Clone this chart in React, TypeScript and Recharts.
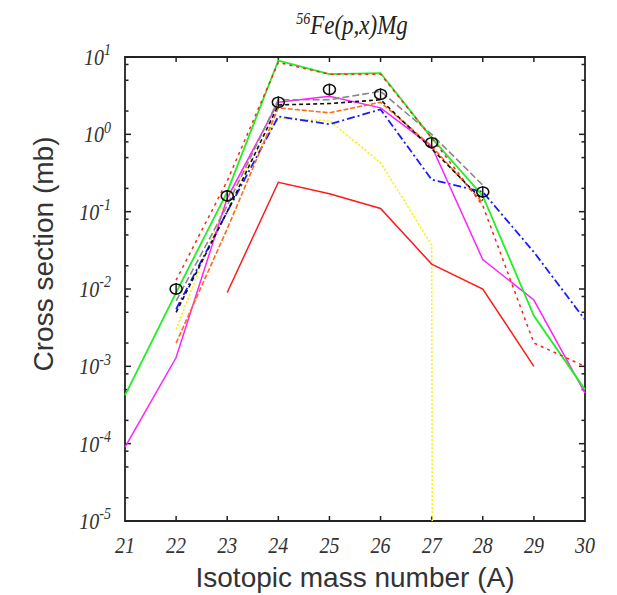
import React from 'react'
import { LineChart, Line, XAxis, YAxis, ReferenceLine, ReferenceArea } from 'recharts'

// Mass numbers A = 21..30
const massNumbers = [21, 22, 23, 24, 25, 26, 27, 28, 29, 30]

// Cross sections (mb), null = no value
const greenCalc = [4.2e-4, 0.009, 0.18, 9, 6, 6.2, 0.9, 0.16, 0.0045, 5e-4]
const redUpper = [null, 0.013, 0.25, 8.5, 6, 6, 0.9, 0.12, 0.002, 0.001]
const redLower = [null, null, 0.009, 0.24, 0.17, 0.11, 0.021, 0.01, 0.001, null]
const orangeCalc = [null, 0.002, 0.06, 2.2, 1.9, 2.6, 0.7, 0.13, null, null]
const blueCalc = [null, 0.0055, 0.1, 1.7, 1.35, 2.1, 0.26, 0.18, 0.03, 0.004]
const yellowCalc = [null, 0.003, 0.15, 1.6, 1.5, 0.43, 0.037, 1e-300, null, null]
const magentaCalc = [9e-5, 0.0013, 0.15, 2.6, 3.1, 2.2, 0.7, 0.024, 0.0072, 4.5e-4]
const blackCalc = [null, 0.005, 0.1, 2.4, 2.5, 2.8, 0.65, 0.14, null, null]
const grayCalc = [null, 0.007, 0.12, 2.8, 2.8, 3.6, 1.0, 0.22, null, null]
const measured = [null, 0.01, 0.16, 2.6, 3.8, 3.3, 0.78, 0.18, null, null]

const majorTicks = [1e-5, 1e-4, 1e-3, 1e-2, 1e-1, 1, 10]
const minorFactors = [2, 5, 8]
const minorTicks = majorTicks.slice(0, -1).flatMap((d) => minorFactors.map((f) => d * f))

const data = massNumbers.map((a, i) => ({
  a,
  green: greenCalc[i],
  redUpper: redUpper[i],
  redLower: redLower[i],
  orange: orangeCalc[i],
  blue: blueCalc[i],
  yellow: yellowCalc[i],
  magenta: magentaCalc[i],
  black: blackCalc[i],
  gray: grayCalc[i],
  exp: measured[i],
}))

const X_MIN = 21
const X_MAX = 30
const Y_MIN = 1e-5
const Y_MAX = 10

// plot frame (page pixels)
const PLOT_TOP = 57
const PLOT_BOTTOM = 521
const PLOT_LEFT = 125
const PLOT_RIGHT = 585

// tick lengths in data units (~ px / px-per-unit)
const xPerPx = (X_MAX - X_MIN) / (PLOT_RIGHT - PLOT_LEFT)
const decadesPerPx = Math.log10(Y_MAX / Y_MIN) / (PLOT_BOTTOM - PLOT_TOP)
const majorX = 6 * xPerPx
const minorX = 3.5 * xPerPx
const tickYFactor = Math.pow(10, 5 * decadesPerPx)

const serif = '"Liberation Serif", "DejaVu Serif", serif'
const sans = '"Liberation Sans", Arial, sans-serif'
const frame = '#222'

// the scanned figure is a little stretched vertically, so text is too
function BottomLabel({ x, payload }: any) {
  return (
    <text
      transform={`translate(${x} ${PLOT_BOTTOM + 32}) scale(1 1.2)`}
      textAnchor="middle"
      fontFamily={serif}
      fontStyle="italic"
      fontSize={20}
      fill="#333"
    >
      {payload.value}
    </text>
  )
}

function LeftLabel({ y, payload }: any) {
  const exp = Math.round(Math.log10(payload.value))
  return (
    <text
      transform={`translate(${PLOT_LEFT - 14} ${y + 8}) scale(1 1.2)`}
      textAnchor="end"
      fontFamily={serif}
      fontStyle="italic"
      fontSize={20}
      fill="#333"
    >
      10
      <tspan dy={-8} fontSize={14}>{exp}</tspan>
    </text>
  )
}

// open marker with error bar, like the measured points
function ExpDot({ cx, cy, value }: any) {
  if (value == null || cx == null || cy == null) return null
  return (
    <g>
      <ellipse cx={cx} cy={cy} rx={6} ry={5} fill="none" stroke="#111" strokeWidth={1.6} />
      <line x1={cx} y1={cy - 6} x2={cx} y2={cy + 6} stroke="#111" strokeWidth={1.4} />
    </g>
  )
}

const tickStyle = { stroke: frame, strokeWidth: 1.5 }

export default function App() {
  return (
    <div style={{ position: 'absolute', left: 0, top: 0, width: 617, height: 595, background: '#fff' }}>
      <LineChart
        width={617}
        height={595}
        data={data}
        margin={{ top: PLOT_TOP, right: 617 - PLOT_RIGHT, bottom: 595 - PLOT_BOTTOM - 30, left: PLOT_LEFT - 80 }}
      >
        <XAxis
          dataKey="a"
          type="number"
          domain={[X_MIN, X_MAX]}
          ticks={massNumbers}
          axisLine={false}
          tickLine={false}
          tick={<BottomLabel />}
          height={30}
          interval={0}
        />
        <YAxis
          scale="log"
          domain={[Y_MIN, Y_MAX]}
          allowDataOverflow
          ticks={majorTicks}
          interval={0}
          width={80}
          axisLine={false}
          tickLine={false}
          tick={<LeftLabel />}
        />

        {/* inward tick marks on all four sides */}
        {massNumbers.slice(1, -1).map((a) => (
          <ReferenceLine key={`xb${a}`} segment={[{ x: a, y: Y_MIN }, { x: a, y: Y_MIN * tickYFactor }]} {...tickStyle} />
        ))}
        {massNumbers.slice(1, -1).map((a) => (
          <ReferenceLine key={`xt${a}`} segment={[{ x: a, y: Y_MAX }, { x: a, y: Y_MAX / tickYFactor }]} {...tickStyle} />
        ))}
        {[...majorTicks, ...minorTicks].map((v) => {
          const len = majorTicks.includes(v) ? majorX : minorX
          return (
            <React.Fragment key={`y${v}`}>
              <ReferenceLine segment={[{ x: X_MIN, y: v }, { x: X_MIN + len, y: v }]} {...tickStyle} />
              <ReferenceLine segment={[{ x: X_MAX, y: v }, { x: X_MAX - len, y: v }]} {...tickStyle} />
            </React.Fragment>
          )
        })}

        <Line dataKey="yellow" stroke="#ffee00" strokeWidth={1.6} strokeDasharray="2 2" dot={false} isAnimationActive={false} />
        <Line dataKey="redLower" stroke="#ff1a1a" strokeWidth={1.5} dot={false} isAnimationActive={false} />
        <Line dataKey="blue" stroke="#1a1aff" strokeWidth={1.8} strokeDasharray="8 3 2 3" dot={false} isAnimationActive={false} />
        <Line dataKey="magenta" stroke="#ff22ff" strokeWidth={1.5} dot={false} isAnimationActive={false} />
        <Line dataKey="orange" stroke="#ff6a1a" strokeWidth={1.6} strokeDasharray="5 2" dot={false} isAnimationActive={false} />
        <Line dataKey="gray" stroke="#888888" strokeWidth={1.6} strokeDasharray="7 3" dot={false} isAnimationActive={false} />
        <Line dataKey="black" stroke="#111111" strokeWidth={1.6} strokeDasharray="4 3" dot={false} isAnimationActive={false} />
        <Line dataKey="green" stroke="#22ee22" strokeWidth={1.8} dot={false} isAnimationActive={false} />
        <Line dataKey="redUpper" stroke="#ff2222" strokeWidth={1.5} strokeDasharray="3 4" dot={false} isAnimationActive={false} />
        <Line dataKey="exp" stroke="none" dot={<ExpDot />} activeDot={false} isAnimationActive={false} />

        {/* plot frame */}
        <ReferenceArea x1={X_MIN} x2={X_MAX} y1={Y_MIN} y2={Y_MAX} fill="none" fillOpacity={0} stroke={frame} strokeWidth={1.8} />
      </LineChart>

      {/* titles and axis labels */}
      <svg width={617} height={595} style={{ position: 'absolute', left: 0, top: 0, pointerEvents: 'none' }}>
        <text
          transform="translate(352 34) scale(1 1.15)"
          textAnchor="middle"
          fontFamily={serif}
          fontStyle="italic"
          fontSize={23}
          fill="#222"
        >
          <tspan fontSize={14} dy={-9}>56</tspan>
          <tspan dy={9}>Fe(p,x)Mg</tspan>
        </text>
        <text
          x={0}
          y={0}
          transform="translate(53 254) rotate(-90)"
          textAnchor="middle"
          fontFamily={sans}
          fontSize={28}
          fill="#333"
        >
          Cross section (mb)
        </text>
        <text x={355} y={587} textAnchor="middle" fontFamily={sans} fontSize={28} fill="#333">
          Isotopic mass number (A)
        </text>
      </svg>
    </div>
  )
}
